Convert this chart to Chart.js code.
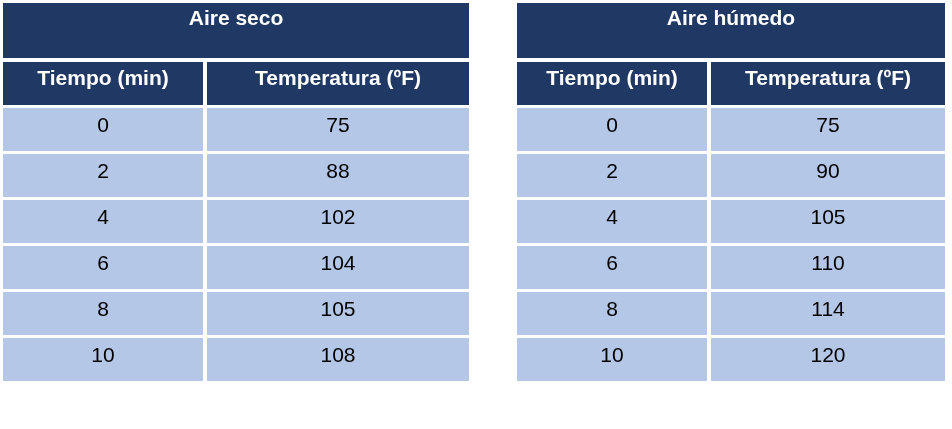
<!DOCTYPE html>
<html><head><meta charset="utf-8">
<script src="https://cdn.jsdelivr.net/npm/chart.js@4/dist/chart.umd.min.js"></script>
<style>html,body{margin:0;padding:0;background:#fff}</style></head>
<body><canvas id="c" width="952" height="429" style="width:952px;height:429px"></canvas>
<script>
const titles = ["Aire seco", "Aire húmedo"];
const headers = ["Tiempo (min)", "Temperatura (ºF)"];
const times = [0, 2, 4, 6, 8, 10];
const tempDry = [75, 88, 102, 104, 105, 108];
const tempWet = [75, 90, 105, 110, 114, 120];

// layout (in scale units = px)
const tables = [{x: [3, 203, 207, 469], vals: tempDry}, {x: [517, 707, 711, 945], vals: tempWet}];
const titleBand = [3, 58], headBand = [62, 105];
const rowTop = 108, rowH = 43, rowStep = 46;
const NAVY = '#203864', CELL = '#B4C7E7';

const tablePlugin = {
  id: 'table',
  afterDraw(chart) {
    const {ctx, scales: {x, y}} = chart;
    const rect = (x0, x1, y0, y1, col) => {
      ctx.fillStyle = col;
      const px0 = x.getPixelForValue(x0), px1 = x.getPixelForValue(x1);
      const py0 = y.getPixelForValue(y0), py1 = y.getPixelForValue(y1);
      ctx.fillRect(px0, py0, px1 - px0, py1 - py0);
    };
    const text = (t, cx, cy, font, col) => {
      ctx.font = font; ctx.fillStyle = col; ctx.textAlign = 'center'; ctx.textBaseline = 'middle';
      ctx.fillText(t, x.getPixelForValue(cx), y.getPixelForValue(cy));
    };
    ctx.save();
    tables.forEach((tb, ti) => {
      const [a0, a1, b0, b1] = tb.x;
      rect(a0, b1, titleBand[0], titleBand[1], NAVY);
      text(titles[ti], (a0 + b1) / 2, 19, 'bold 21px "Liberation Sans", Arial', '#fff');
      rect(a0, a1, headBand[0], headBand[1], NAVY);
      rect(b0, b1, headBand[0], headBand[1], NAVY);
      text(headers[0], (a0 + a1) / 2, 79, 'bold 21px "Liberation Sans", Arial', '#fff');
      text(headers[1], (b0 + b1) / 2, 79, 'bold 21px "Liberation Sans", Arial', '#fff');
      times.forEach((t, i) => {
        const y0 = rowTop + i * rowStep, y1 = y0 + rowH;
        rect(a0, a1, y0, y1, CELL);
        rect(b0, b1, y0, y1, CELL);
        text(String(t), (a0 + a1) / 2, y0 + 18, '21px "Liberation Sans", Arial', '#000');
        text(String(tb.vals[i]), (b0 + b1) / 2, y0 + 18, '21px "Liberation Sans", Arial', '#000');
      });
    });
    ctx.restore();
  }
};

new Chart(document.getElementById('c'), {
  type: 'scatter',
  data: {datasets: [{data: [], pointRadius: 0}]},
  options: {
    responsive: false, animation: false,
    layout: {padding: 0},
    plugins: {legend: {display: false}, tooltip: {enabled: false}},
    scales: {
      x: {type: 'linear', min: 0, max: 952, display: false},
      y: {type: 'linear', min: 0, max: 429, reverse: true, display: false}
    }
  },
  plugins: [tablePlugin]
});
</script></body></html>
